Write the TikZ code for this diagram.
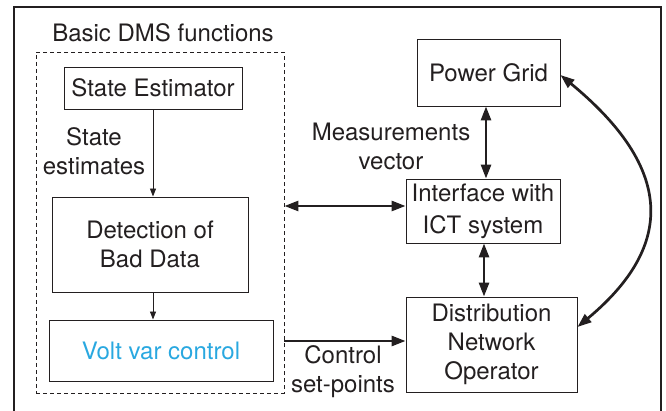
\documentclass[tikz,border=0pt]{standalone}
\usepackage{fontspec}
\setmainfont{TeX Gyre Heros}
\usetikzlibrary{arrows.meta}
\definecolor{ink}{HTML}{231F20}
\definecolor{vvc}{HTML}{29A8E0}
\begin{document}
\begin{tikzpicture}[x=1pt,y=-1pt,
  font=\fontsize{24}{29}\selectfont, text=ink,
  box/.style={draw=ink, line width=0.9pt, inner sep=0pt, align=center},
  thinarrow/.style={draw=ink, line width=0.9pt, -{Triangle[length=8pt,width=6pt]}},
  bigtip/.tip={Triangle[length=14pt,width=10pt]},
  thickboth/.style={draw=ink, line width=2.7pt, bigtip-bigtip},
  thickone/.style={draw=ink, line width=2.7pt, -bigtip},
  lab/.style={align=center, inner sep=0pt}]
\useasboundingbox (0,0) rectangle (666,411);
\draw[ink, line width=1.6pt] (14,411) -- (14,7) -- (661,7) -- (661,411);
\node[draw=ink, dash pattern=on 4pt off 3pt, line width=0.9pt, minimum width=248pt, minimum height=341pt, inner sep=0pt] (dms) at (160,222.5) {};
\node[lab, anchor=base] (title) at (163,42) {Basic DMS functions};
\node[box, minimum width=178pt, minimum height=42pt] (se) at (153,88) {State Estimator};
\node[box, minimum width=196pt, minimum height=95pt] (det) at (150,244.5) {Detection of\\Bad Data};
\node[box, minimum width=224pt, minimum height=61pt, text=vvc] (vvc) at (161,350.5) {Volt var control};
\node[box, minimum width=143pt, minimum height=67pt] (pg) at (488.5,72.5) {Power Grid};
\node[box, minimum width=154pt, minimum height=64pt, font=\fontsize{24}{32}\selectfont] (ict) at (483,211) {Interface with\\ICT system};
\node[box, minimum width=171pt, minimum height=95pt] (dno) at (491.5,344.5) {Distribution\\Network\\Operator};
\node[lab] (selab) at (94,151) {State\\estimates};
\node[lab] (meas) at (391,146) {Measurements\\vector};
\node[lab] (ctrl) at (343,372) {Control\\set-points};
\draw[thinarrow] (se.south) -- (se.south |- det.north);
\draw[thinarrow] (se.south |- det.south) -- (se.south |- vvc.north);
\draw[thickboth] ([xshift=-2.5pt]pg.south) -- ([xshift=-2.5pt]pg.south |- ict.north);
\draw[thickboth] ([xshift=1pt]ict.south) -- ([xshift=1pt]ict.south |- dno.north);
\draw[thickboth] ([yshift=5pt]ict.west) -- ([yshift=5pt]ict.west -| dms.east);
\draw[thickone] ([yshift=3.5pt]dno.west -| dms.east) -- ([yshift=3.5pt]dno.west);
\draw[thickboth] ([yshift=-2.5pt]pg.east) .. controls (666,162) and (682,240) .. ([yshift=17.5pt]dno.east);
\end{tikzpicture}
\end{document}
